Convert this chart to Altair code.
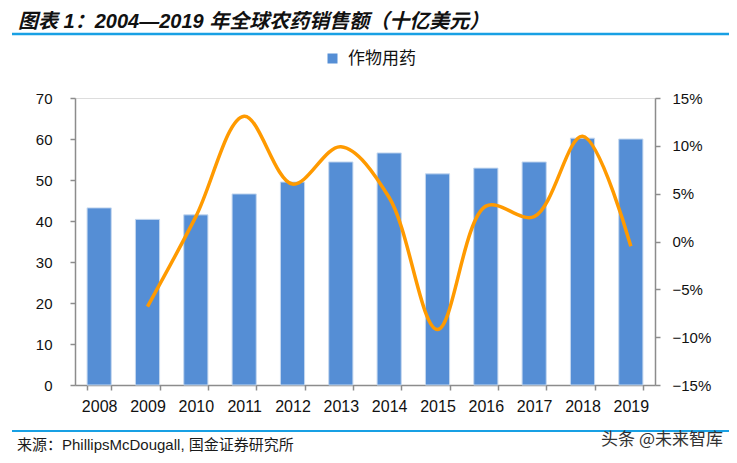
import altair as alt
import pandas as pd

years = ["2008", "2009", "2010", "2011", "2012", "2013", "2014", "2015", "2016", "2017", "2018", "2019"]
sales = [43.2, 40.4, 41.5, 46.6, 49.5, 54.4, 56.6, 51.5, 52.9, 54.4, 60.2, 60.0]
growth = [None, -6.8, 2.6, 13.1, 6.0, 9.9, 4.6, -9.2, 3.7, 2.6, 11.0, -0.5]
series_name = "作物用药"
title_text = "图表 1：2004—2019 年全球农药销售额（十亿美元）"
source_text = "来源：PhillipsMcDougall, 国金证券研究所"
watermark_text = "头条 @未来智库"

df = pd.DataFrame({"year": years, "sales": sales, "growth": growth, "series": series_name})

LAT = "Liberation Sans, Arial, Noto Sans CJK SC"
CJK = "Noto Sans CJK SC"
AXC = "#8c8c8c"

x_enc = alt.X("year:N", sort=years, title=None,
              scale=alt.Scale(paddingInner=0.5, paddingOuter=0.25),
              axis=alt.Axis(labelAngle=0, labelFontSize=16, labelFont=LAT, labelColor="#111",
                            domainColor=AXC, domainWidth=1.5, tickColor=AXC, tickWidth=1.5,
                            tickSize=5, tickBand="extent", labelPadding=8, grid=False))

bars = alt.Chart(df).mark_bar(stroke="#c5d8ef", strokeWidth=1).encode(
    x=x_enc,
    y=alt.Y("sales:Q", title=None, scale=alt.Scale(domain=[0, 70]),
            axis=alt.Axis(values=[0, 10, 20, 30, 40, 50, 60, 70], labelFontSize=15, labelFont=LAT,
                          labelColor="#111", domainColor=AXC, domainWidth=1.5, tickColor=AXC,
                          tickWidth=1.5, tickSize=5, labelPadding=18, grid=False)),
    color=alt.Color("series:N", title=None,
                    scale=alt.Scale(domain=[series_name], range=["#558ed5"]),
                    legend=alt.Legend(orient="none", legendX=249, legendY=-48, symbolType="square",
                                      symbolSize=100, symbolStrokeWidth=0, labelFontSize=17,
                                      labelFont=CJK, labelColor="#111", labelOffset=7)),
)

line = alt.Chart(df).transform_filter("isValid(datum.growth)").mark_line(
    color="#ff9a00", strokeWidth=3.5, interpolate="catmull-rom").encode(
    x=alt.X("year:N", sort=years),
    y=alt.Y("growth:Q", title=None, scale=alt.Scale(domain=[-15, 15]),
            axis=alt.Axis(orient="right", values=[-15, -10, -5, 0, 5, 10, 15],
                          labelExpr="format(datum.value, 'd') + '%'",
                          labelFontSize=15, labelFont=LAT, labelColor="#111",
                          domainColor=AXC, domainWidth=1.5, tickColor=AXC, tickWidth=1.5,
                          tickSize=5, labelPadding=12, grid=False)),
)

base = alt.Chart(pd.DataFrame({"k": [0]}))
title = base.mark_text(align="left", baseline="middle", fontSize=20, fontWeight="bold",
                       fontStyle="italic", font=LAT, color="#111111").encode(
    x=alt.value(-57), y=alt.value(-76), text=alt.value(title_text))
rule_top = base.mark_rule(color="#18a0e4", strokeWidth=2.5).encode(
    x=alt.value(-63), x2=alt.value(655), y=alt.value(-64))
rule_bot = base.mark_rule(color="#18a0e4", strokeWidth=2).encode(
    x=alt.value(-63), x2=alt.value(655), y=alt.value(333))
source = base.mark_text(align="left", baseline="middle", fontSize=15, font=LAT, color="#1a1a1a").encode(
    x=alt.value(-58), y=alt.value(347), text=alt.value(source_text))
wm = base.mark_text(align="right", baseline="middle", fontSize=17, font=CJK, color="#333333").encode(
    x=alt.value(648), y=alt.value(342), text=alt.value(watermark_text))

chart = alt.layer(bars, line, title, rule_top, rule_bot, source, wm).resolve_scale(
    y="independent", x="shared").properties(
    width=580, height=287,
    autosize=alt.AutoSizeParams(type="none"),
    padding={"left": 67, "top": 90, "right": 74, "bottom": 70},
).configure_view(stroke=None).configure(background="white")

chart.save("out.html", embed_options={"renderer": "svg", "actions": False})
